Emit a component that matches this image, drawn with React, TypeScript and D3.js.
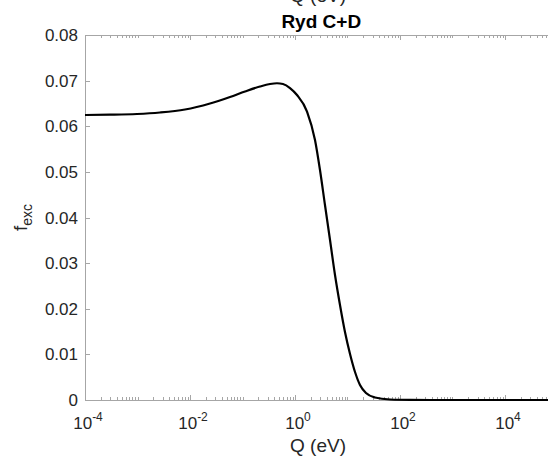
import React from "react";
import * as d3 from "d3";

const logQ = [-4, -3.524, -3.01, -2.571, -2.095, -1.619, -1.238, -0.952, -0.667, -0.476, -0.343, -0.229, -0.095, 0.038, 0.229, 0.381, 0.476, 0.571, 0.667, 0.762, 0.857, 0.952, 1.048, 1.143, 1.238, 1.352, 1.524, 1.81, 2.19, 2.6, 3, 4, 5];
const fExc = [0.06247, 0.06253, 0.06268, 0.06301, 0.06367, 0.06499, 0.06641, 0.06762, 0.06871, 0.06926, 0.06943, 0.06926, 0.06838, 0.06685, 0.06323, 0.05699, 0.05041, 0.04274, 0.03507, 0.0274, 0.02082, 0.0149, 0.01008, 0.00614, 0.00329, 0.00153, 0.00055, 0.00011, 0.00002, 0.000005, 0, 0, 0];
const yTicks = [0, 0.01, 0.02, 0.03, 0.04, 0.05, 0.06, 0.07, 0.08];
const xTickExps = [-4, -2, 0, 2, 4];
const title = "Ryd C+D";
const xLabel = "Q (eV)";

const W = 548, H = 456;
const L = 85, R = 557.5, T = 35, B = 400;

export default function App() {
  const x = d3.scaleLog().domain([1e-4, 1e5]).range([L, R]);
  const y = d3.scaleLinear().domain([0, 0.08]).range([B, T]);
  const pts = logQ.map((l, i) => [Math.pow(10, l), fExc[i]] as [number, number]);
  const line = d3.line<[number, number]>().x(d => x(d[0])).y(d => y(d[1])).curve(d3.curveMonotoneX);
  const font = "'Liberation Sans', Arial, sans-serif";
  const axisCol = "#a6a6a6";
  const textCol = "#262626";
  const ticks: { v: number; major: boolean }[] = [];
  for (let e = -4; e <= 5; e++) {
    for (let k = 1; k <= 9; k++) {
      const v = k * Math.pow(10, e);
      if (v > 1e5 * 1.0001) break;
      ticks.push({ v, major: k === 1 && e % 2 === 0 });
    }
  }
  return (
    <svg width={W} height={H} style={{ position: "fixed", left: 0, top: 0, background: "#fff" }} fontFamily={font}>
      <rect x={0} y={0} width={W} height={H} fill="#fff" />
      <text x={318} y={2} textAnchor="middle" fontSize={19} fill={textCol}>{xLabel}</text>
      <line x1={L} x2={R} y1={B + 0.5} y2={B + 0.5} stroke={axisCol} strokeWidth={1} />
      <line x1={L} x2={R} y1={T + 0.5} y2={T + 0.5} stroke={axisCol} strokeWidth={1} />
      <line x1={L + 0.5} x2={L + 0.5} y1={T} y2={B} stroke={axisCol} strokeWidth={1} />
      {ticks.map((t, i) => {
        const xx = Math.round(x(t.v)) + 0.5;
        const len = t.major ? 5 : 3;
        return (
          <g key={i}>
            <line x1={xx} x2={xx} y1={B} y2={B - len} stroke={axisCol} />
            <line x1={xx} x2={xx} y1={T} y2={T + len} stroke={axisCol} />
          </g>
        );
      })}
      {yTicks.map((v, i) => {
        const yy = Math.round(y(v)) + 0.5;
        return (
          <g key={i}>
            <line x1={L} x2={L + 5} y1={yy} y2={yy} stroke={axisCol} />
            <text x={78} y={yy} dy="0.35em" textAnchor="end" fontSize={17} fill={textCol}>{v === 0 ? "0" : v.toFixed(2)}</text>
          </g>
        );
      })}
      {xTickExps.map((e, i) => (
        <text key={i} x={x(Math.pow(10, e)) + 3} y={429} textAnchor="middle" fontSize={17} fill={textCol}>
          10<tspan fontSize={12} dy={-8}>{e}</tspan>
        </text>
      ))}
      <text x={318} y={452} textAnchor="middle" fontSize={19} fill={textCol}>{xLabel}</text>
      <text transform={`translate(27,${(T + B) / 2}) rotate(-90)`} textAnchor="middle" fontSize={19} fill={textCol}>
        f<tspan fontSize={14} dy={5}>exc</tspan>
      </text>
      <text x={(L + R) / 2} y={28} textAnchor="middle" fontSize={19} fontWeight="bold" fill="#000">{title}</text>
      <path d={line(pts) || ""} fill="none" stroke="#000" strokeWidth={2.2} />
    </svg>
  );
}
